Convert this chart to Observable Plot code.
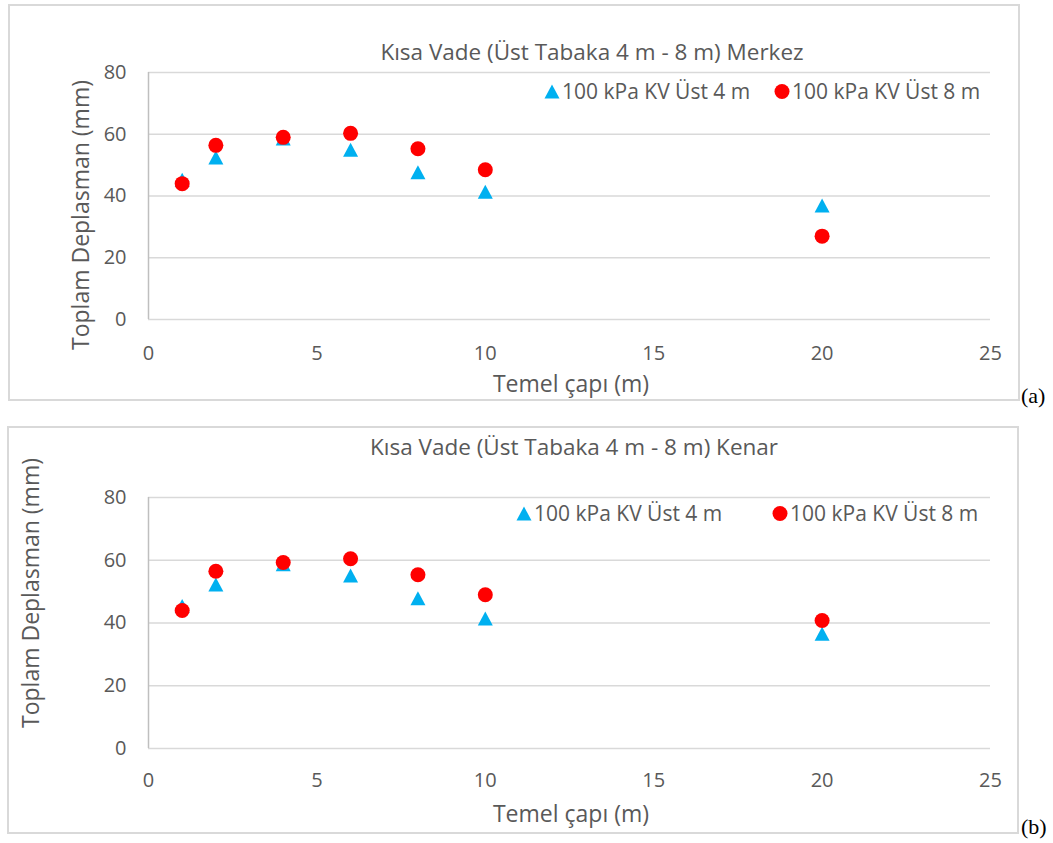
<!DOCTYPE html>
<html>
<head>
<meta charset="utf-8">
<script src="https://cdn.jsdelivr.net/npm/d3@7"></script>
<script src="https://cdn.jsdelivr.net/npm/@observablehq/plot@0.6"></script>
<style>
  html, body { margin: 0; padding: 0; background: #fff; }
  #page { position: relative; width: 1053px; height: 843px; overflow: hidden; font-family: "Open Sans", sans-serif; color: #595959; }
  .box { position: absolute; border: 2px solid #d9d9d9; box-sizing: border-box; }
  .txt { position: absolute; white-space: nowrap; font-size: 20px; color: #595959; line-height: 1; }
  .center { transform: translate(-50%, -50%); }
  .ylab { transform: translate(-50%, -50%) rotate(-90deg); }
  .tag { position: absolute; font-family: "Liberation Serif", "Times New Roman", serif; font-size: 22px; color: #000; line-height: 1; }
  .plot { position: absolute; left: 0; }
  .leg { position: absolute; display: flex; align-items: center; font-size: 21px; color: #595959; white-space: nowrap; line-height: 1; }
  .leg svg { margin-right: 2px; }
</style>
</head>
<body>
<div id="page"></div>
<script>
// ---- data ----
const diameters = [1, 2, 4, 6, 8, 10, 20];
const merkezUst4 = [45.3, 52.5, 58.6, 55.0, 47.7, 41.4, 36.9];
const merkezUst8 = [44.0, 56.4, 59.0, 60.3, 55.3, 48.5, 27.0];
const kenarUst4 = [45.4, 52.3, 58.7, 55.1, 47.9, 41.4, 36.6];
const kenarUst8 = [44.0, 56.5, 59.3, 60.5, 55.4, 49.0, 40.8];
const seriesNames = ["100 kPa KV Üst 4 m", "100 kPa KV Üst 8 m"];
const xTicks = [0, 5, 10, 15, 20, 25];
const yTicks = [0, 20, 40, 60, 80];
const titles = ["Kısa Vade (Üst Tabaka 4 m - 8 m) Merkez", "Kısa Vade (Üst Tabaka 4 m - 8 m) Kenar"];
const xLabel = "Temel çapı (m)";
const yLabel = "Toplam Deplasman (mm)";
const tags = ["(a)", "(b)"];

const triColor = "#00B0F0";
const dotColor = "#FF0000";

// triangle symbol centred on its bounding box
const triSymbol = {
  draw(ctx) {
    const w = 15, h = 14;
    ctx.moveTo(0, -h / 2);
    ctx.lineTo(w / 2, h / 2);
    ctx.lineTo(-w / 2, h / 2);
    ctx.closePath();
  }
};

const page = document.getElementById("page");

function el(cls, text, style) {
  const d = document.createElement("div");
  d.className = cls;
  if (text != null) d.textContent = text;
  Object.assign(d.style, style);
  page.appendChild(d);
  return d;
}

function legendItem(shape, color, label, left, top) {
  const d = el("leg", null, { left: left + "px", top: top + "px", transform: "translateY(-50%)" });
  const ns = "http://www.w3.org/2000/svg";
  const s = document.createElementNS(ns, "svg");
  s.setAttribute("width", 16); s.setAttribute("height", 16);
  let p;
  if (shape === "tri") {
    p = document.createElementNS(ns, "path");
    p.setAttribute("d", "M8,1L15.5,15L0.5,15Z");
  } else {
    p = document.createElementNS(ns, "circle");
    p.setAttribute("cx", 8); p.setAttribute("cy", 8); p.setAttribute("r", 7.5);
  }
  p.setAttribute("fill", color);
  s.appendChild(p);
  d.appendChild(s);
  const t = document.createElement("span");
  t.textContent = label;
  d.appendChild(t);
}

function chart(cfg) {
  const rows4 = diameters.map((d, i) => ({ x: d, y: cfg.s4[i] }));
  const rows8 = diameters.map((d, i) => ({ x: d, y: cfg.s8[i] }));
  const H = cfg.height;
  const svg = Plot.plot({
    width: 1053,
    height: H,
    marginLeft: 148,
    marginRight: 1053 - 990,
    marginTop: cfg.plotTop - cfg.top,
    marginBottom: cfg.top + H - cfg.plotBottom,
    style: { fontFamily: "'Open Sans', sans-serif", fontSize: "20px", color: "#595959", background: "transparent", overflow: "visible" },
    x: { domain: [0, 25], ticks: xTicks, tickSize: 0, tickPadding: cfg.xPad, label: null },
    y: { domain: [0, 80], ticks: yTicks, tickSize: 0, tickPadding: 22, label: null },
    marks: [
      Plot.ruleY(yTicks, { stroke: "#d9d9d9", strokeWidth: 1.5 }),
      Plot.ruleX([0], { stroke: "#bfbfbf", strokeWidth: 1.5 }),
      Plot.dot(rows4, { x: "x", y: "y", symbol: triSymbol, fill: triColor, stroke: "none" }),
      Plot.dot(rows8, { x: "x", y: "y", r: 7.5, fill: dotColor, stroke: "none" })
    ]
  });
  svg.classList.add("plot");
  svg.style.top = cfg.top + "px";
  svg.style.left = "0px";
  svg.style.position = "absolute";
  page.appendChild(svg);

  el("box", null, { left: cfg.box[0] + "px", top: cfg.box[1] + "px", width: (cfg.box[2] - cfg.box[0]) + "px", height: (cfg.box[3] - cfg.box[1]) + "px" });
  el("txt center", cfg.title, { left: cfg.titlePos[0] + "px", top: cfg.titlePos[1] + "px", fontSize: "22.5px" });
  el("txt center", xLabel, { left: "571px", top: cfg.xLabelY + "px", fontSize: "23px" });
  el("txt ylab", yLabel, { left: cfg.yLabelPos[0] + "px", top: cfg.yLabelPos[1] + "px", fontSize: "23px" });
  el("tag", cfg.tag, { left: "1021px", top: cfg.tagY + "px" });
  legendItem("tri", triColor, seriesNames[0], cfg.leg4[0] - 8, cfg.leg4[1]);
  legendItem("dot", dotColor, seriesNames[1], cfg.leg8[0] - 8, cfg.leg8[1]);
}

chart({
  s4: merkezUst4, s8: merkezUst8, title: titles[0], tag: tags[0],
  top: 0, height: 420, plotTop: 72, plotBottom: 319, xPad: 26,
  box: [8, 4, 1020, 401], titlePos: [592, 52], xLabelY: 383, yLabelPos: [80, 215], tagY: 385,
  leg4: [552, 91], leg8: [782, 91]
});
chart({
  s4: kenarUst4, s8: kenarUst8, title: titles[1], tag: tags[1],
  top: 423, height: 420, plotTop: 497, plotBottom: 748, xPad: 24,
  box: [7, 426, 1019, 834], titlePos: [574, 447], xLabelY: 813, yLabelPos: [30, 593], tagY: 816,
  leg4: [524, 513], leg8: [780, 513]
});
</script>
</body>
</html>
